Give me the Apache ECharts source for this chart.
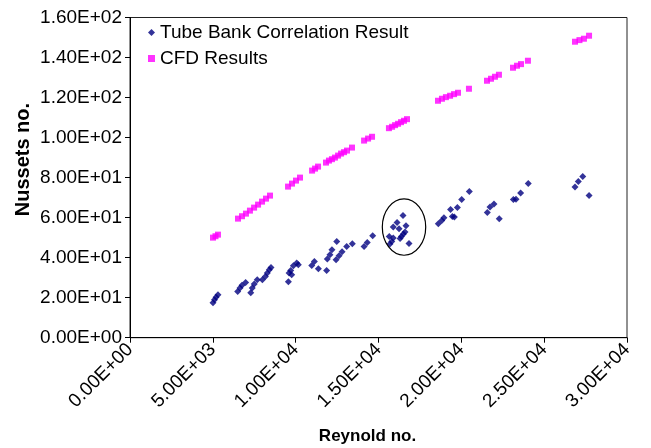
<!DOCTYPE html>
<html>
<head>
<meta charset="utf-8">
<script src="https://cdn.jsdelivr.net/npm/echarts@6/dist/echarts.min.js"></script>
<style>html,body{margin:0;padding:0;background:#fff;}#c{width:651px;height:448px;}</style>
</head>
<body>
<div id="c"></div>
<script>
// Tube Bank Correlation Result
var tubeRe = [5010,5100,5190,5310,6500,6640,6760,6980,7290,7380,7500,7680,7990,8170,8290,8410,8510,
  9560,9600,9700,9760,9860,10060,10160,10970,11130,11370,11870,11910,12070,12190,12480,12440,12620,12800,
  13080,13420,14130,14320,14650,
  16480,16120,16660,15890,16240,16600,16500,15650,15890,16380,16300,15800,15690,16840,
  18610,18820,18950,19350,19460,19580,19760,20020,20480,21570,21730,21970,22290,23140,23300,23580,24040,
  26860,27060,27330,27710];
var tubeNu = [17.5,19.0,20.2,21.5,23.1,24.8,26.2,27.6,22.5,24.8,26.8,29.0,29.0,30.6,32.3,34.0,35.1,
  28.0,32.3,33.6,31.5,36.0,37.3,36.5,36.1,38.1,34.5,33.6,39.3,41.5,44.0,48.1,39.0,41.0,43.0,
  45.6,47.0,45.6,47.6,51.0,
  61.0,57.6,56.0,55.3,54.5,52.8,51.8,50.6,49.8,50.6,49.6,48.1,46.8,47.1,
  57.0,58.6,60.0,64.0,60.6,60.3,65.1,69.0,73.1,62.6,65.3,66.8,59.5,69.0,69.2,72.3,77.0,
  75.3,78.0,80.5,71.1];
// CFD Results
var cfdRe = [5010,5160,5310,6520,6760,7000,7240,7490,7730,7970,8210,8450,
  9540,9780,10020,10260,10990,11170,11350,11830,12010,12190,12370,12560,12740,12920,13100,13400,
  14130,14370,14610,15630,15820,16000,16180,16360,16540,16720,
  18590,18830,19070,19320,19560,19800,20460,21550,21790,22030,22270,23120,23360,23600,24020,
  26860,27130,27400,27710];
var cfdNu = [50.0,50.7,51.5,59.5,60.7,62.0,63.5,65.0,66.5,68.0,69.5,71.0,
  75.5,77.0,78.5,80.0,83.5,84.5,85.5,87.5,88.5,89.2,90.0,91.0,92.0,92.7,93.5,95.0,
  98.5,99.5,100.4,104.7,105.4,106.2,106.9,107.7,108.4,109.2,
  118.4,119.4,120.2,120.9,121.7,122.4,124.4,128.4,129.4,130.4,131.4,134.9,135.9,136.7,138.4,
  147.9,148.7,149.4,150.9];
var seriesNames = ['Tube Bank Correlation Result','CFD Results'];
// highlighted group (ellipse annotation) in data units
var ringCenter = [16540, 55.3];
var ringRadius = [1310, 14.1];

function sci(v){
  if (v === 0) return '0.00E+00';
  var e = Math.floor(Math.log10(Math.abs(v)));
  var m = v / Math.pow(10, e);
  var s = m.toFixed(2);
  if (s === '10.00') { e++; s = '1.00'; }
  return s + 'E' + (e < 0 ? '-' : '+') + String(Math.abs(e)).padStart(2, '0');
}
function pairs(a, b){ return a.map(function(x, i){ return [x, b[i]]; }); }

var FONT = '"Liberation Sans", Arial, sans-serif';
var chart = echarts.init(document.getElementById('c'), null, {renderer: 'canvas'});
chart.setOption({
  animation: false,
  backgroundColor: '#fff',
  grid: {left: 130, right: 24, top: 17.5, bottom: 110.3, show: true, borderColor: '#222', borderWidth: 1,
         containLabel: false, outerBoundsMode: 'none'},
  legend: {
    orient: 'vertical', left: 148, top: 23, padding: 0, itemGap: 7,
    itemWidth: 7, itemHeight: 7, itemTextGap: 6,
    textStyle: {fontFamily: FONT, fontSize: 19, color: '#000', lineHeight: 19},
    data: [{name: seriesNames[0], icon: 'diamond'}, {name: seriesNames[1], icon: 'rect'}]
  },
  xAxis: {
    type: 'value', min: 0, max: 30000, interval: 5000,
    name: 'Reynold no.', nameLocation: 'middle', nameGap: 90, nameMoveOverlap: false,
    nameTextStyle: {fontFamily: FONT, fontSize: 17, fontWeight: 'bold', color: '#000', padding: [0, 22, 0, 0]},
    axisLine: {show: true, onZero: false, lineStyle: {color: '#000', width: 1}},
    axisTick: {show: true, inside: false, length: 5, lineStyle: {color: '#000'}},
    splitLine: {show: false},
    axisLabel: {rotate: 45, margin: 9, formatter: sci, fontFamily: FONT, fontSize: 19, color: '#000'}
  },
  yAxis: {
    type: 'value', min: 0, max: 160, interval: 20,
    name: 'Nussets no.', nameLocation: 'middle', nameGap: 97, nameMoveOverlap: false,
    nameTextStyle: {fontFamily: FONT, fontSize: 20, fontWeight: 'bold', color: '#000', padding: [0, 0, 0, 36]},
    axisLine: {show: true, onZero: false, lineStyle: {color: '#000', width: 1}},
    axisTick: {show: true, inside: false, length: 5, lineStyle: {color: '#000'}},
    splitLine: {show: false},
    axisLabel: {margin: 8, formatter: sci, fontFamily: FONT, fontSize: 19, color: '#000'}
  },
  series: [
    {name: seriesNames[0], type: 'scatter', symbol: 'diamond', symbolSize: 7,
     itemStyle: {color: '#000080'}, data: pairs(tubeRe, tubeNu)},
    {name: seriesNames[1], type: 'scatter', symbol: 'rect', symbolSize: 6,
     itemStyle: {color: '#FF00FF'}, data: pairs(cfdRe, cfdNu)}
  ]
});
var c0 = chart.convertToPixel({gridIndex: 0}, ringCenter);
var c1 = chart.convertToPixel({gridIndex: 0}, [ringCenter[0] + ringRadius[0], ringCenter[1] + ringRadius[1]]);
chart.setOption({
  graphic: [{type: 'ellipse', shape: {cx: c0[0], cy: c0[1], rx: Math.abs(c1[0] - c0[0]), ry: Math.abs(c1[1] - c0[1])},
    style: {fill: null, stroke: '#000', lineWidth: 1.2}, z: 100}]
});
</script>
</body>
</html>
